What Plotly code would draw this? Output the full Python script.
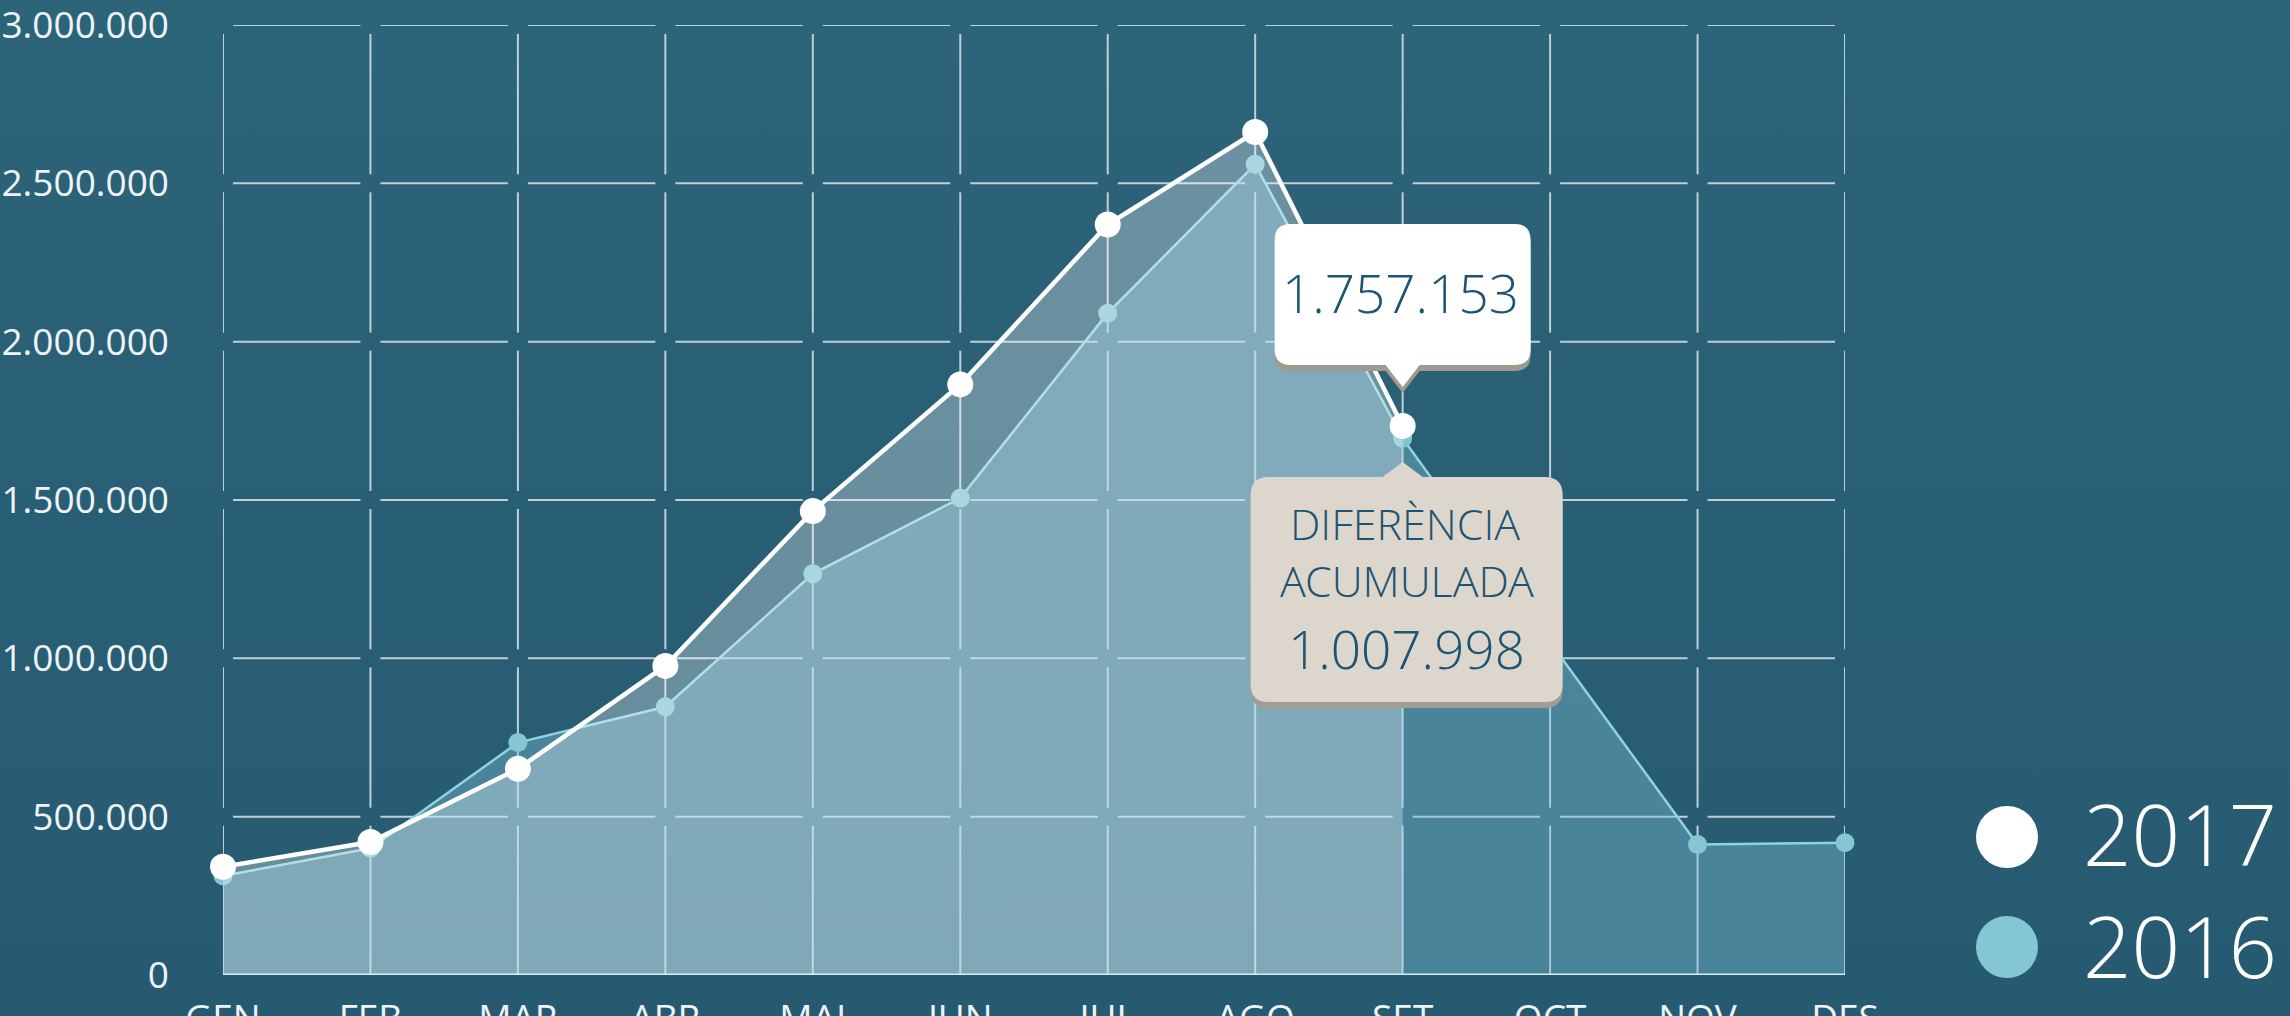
import base64
import plotly.graph_objects as go

# ---------------- data ----------------
months = ["GEN", "FEB", "MAR", "ABR", "MAI", "JUN", "JUL", "AGO", "SET", "OCT", "NOV", "DES"]
v2017 = [342000, 420000, 651000, 976000, 1465000, 1865000, 2370000, 2662000, 1734000]
v2016 = [313000, 400000, 734000, 847000, 1267000, 1506000, 2090000, 2560000, 1695000,
         1051000, 412000, 418000]
y_tick_vals = [0, 500000, 1000000, 1500000, 2000000, 2500000, 3000000]
y_tick_text = ["0", "500.000", "1.000.000", "1.500.000", "2.000.000", "2.500.000", "3.000.000"]
series_names = ["2017", "2016"]
callout_value = "1.757.153"
diff_title = ["DIFERÈNCIA", "ACUMULADA"]
diff_value = "1.007.998"

# ---------------- style ----------------
FONT = "Open Sans"
LIGHT = "Open Sans Light, Open Sans"
C2017 = "#ffffff"
C2016 = "#84c6d1"
TXT_DARK = "#1d5474"
W, H = 2290, 1016
ML, MR, MT, MB = 223, 445, 25, 41
PW, PH = W - ML - MR, H - MT - MB
xs = list(range(len(months)))
x16 = xs[:len(v2016)]
x17 = xs[:len(v2017)]

# grid with gaps at intersections (built from tick arrays)
gapx = 10 / (PW / (len(months) - 1))
gapy = 9 / (PH / (y_tick_vals[-1] - y_tick_vals[0]))
gx, gy = [], []
for i in xs:
    for k in range(len(y_tick_vals) - 1):
        lo = y_tick_vals[k] + (gapy if k > 0 else 0)
        hi = y_tick_vals[k + 1] - gapy
        gx += [i, i, None]
        gy += [lo, hi, None]
for k in range(1, len(y_tick_vals)):
    for i in xs[:-1]:
        gx += [i + gapx, i + 1 - gapx, None]
        gy += [y_tick_vals[k], y_tick_vals[k], None]

fig = go.Figure()
fig.add_trace(go.Scatter(x=gx, y=gy, mode="lines", line=dict(color="#bfcfd7", width=2),
                         hoverinfo="skip", cliponaxis=False, showlegend=False))
# 2016 area + line + markers
fig.add_trace(go.Scatter(x=x16, y=v2016, mode="lines+markers", fill="tozeroy",
                         fillcolor="rgba(125,193,215,0.40)",
                         line=dict(color="#8fd3dc", width=2.5),
                         marker=dict(color=C2016, size=19),
                         cliponaxis=False, showlegend=False, name=series_names[1]))
# 2017 area (semi-transparent white)
fig.add_trace(go.Scatter(x=x17, y=v2017, mode="lines", fill="tozeroy",
                         fillcolor="rgba(255,255,255,0.30)", line=dict(width=0),
                         hoverinfo="skip", showlegend=False))
# baseline
fig.add_trace(go.Scatter(x=[xs[0], xs[-1]], y=[y_tick_vals[0]] * 2, mode="lines",
                         line=dict(color="#d6ecf1", width=3), hoverinfo="skip",
                         cliponaxis=False, showlegend=False))
# 2017 line + markers
fig.add_trace(go.Scatter(x=x17, y=v2017, mode="lines+markers",
                         line=dict(color=C2017, width=4.5),
                         marker=dict(color=C2017, size=26),
                         cliponaxis=False, showlegend=False, name=series_names[0]))


def callout(x0, x1, yb, yt, r, pw, tip, pointer_down):
    p = f"M{x0 + r},{yb} "
    if pointer_down:
        p += f"L{-pw},{yb} L0,{tip} L{pw},{yb} "
    p += f"L{x1 - r},{yb} Q{x1},{yb} {x1},{yb + r} L{x1},{yt - r} Q{x1},{yt} {x1 - r},{yt} "
    if not pointer_down:
        p += f"L{pw},{yt} L0,{tip} L{-pw},{yt} "
    p += f"L{x0 + r},{yt} Q{x0},{yt} {x0},{yt - r} L{x0},{yb + r} Q{x0},{yb} {x0 + r},{yb} Z"
    return p


ax_i = len(v2017) - 1
ay_v = v2017[-1]
shapes = []
def add_callout(path, color):
    shapes.append(dict(type="path", xref="x", yref="y", xsizemode="pixel", ysizemode="pixel",
                       xanchor=ax_i, yanchor=ay_v, path=path, fillcolor=color,
                       line=dict(width=0), layer="above"))

add_callout(callout(-128, 128, 61 - 6, 202 - 6, 16, 17, 39 - 6, True), "#9f9a8f")
add_callout(callout(-128, 128, 61, 202, 16, 17, 39, True), "#ffffff")
add_callout(callout(-152, 160, -276 - 6, -51 - 6, 18, 20, -36 - 6, False), "#a29d92")
add_callout(callout(-152, 160, -276, -51, 18, 20, -36, False), "#ddd6cc")

annotations = []
def add_text(text, dx, dy, size):
    annotations.append(dict(x=ax_i, y=ay_v, xref="x", yref="y", text=text, showarrow=False,
                            xshift=dx, yshift=dy, xanchor="center", yanchor="middle",
                            font=dict(family=LIGHT, size=size, color=TXT_DARK, weight=300)))

add_text(callout_value, -2, 133, 53)
add_text(diff_title[0], 2, -98, 43)
add_text(diff_title[1], 4, -155, 43)
add_text(diff_value, 4, -223, 53)

# custom legend
leg_x_circle = (2007 - ML) / PW
leg_x_text = (2081 - ML) / PW
for name, col, ypix, ys in [(series_names[0], C2017, 837, 4), (series_names[1], C2016, 947, 2)]:
    yp = (H - MB - ypix) / PH
    shapes.append(dict(type="circle", xref="paper", yref="paper", xsizemode="pixel",
                       ysizemode="pixel", xanchor=leg_x_circle, yanchor=yp,
                       x0=-31, x1=31, y0=-31, y1=31, fillcolor=col, line=dict(width=0)))
    annotations.append(dict(x=leg_x_text, y=yp, xref="paper", yref="paper", text=name,
                            showarrow=False, xanchor="left", yanchor="middle", yshift=ys,
                            font=dict(family=LIGHT, size=85, color="#ffffff", weight=300)))

# gradient background
svg = ('<svg xmlns="http://www.w3.org/2000/svg" width="10" height="100" viewBox="0 0 10 100" '
       'preserveAspectRatio="none"><defs><linearGradient id="g" x1="0" y1="0" x2="0" y2="1">'
       '<stop offset="0" stop-color="#2c6479"/><stop offset="1" stop-color="#265a71"/>'
       '</linearGradient></defs><rect width="10" height="100" fill="url(#g)"/></svg>')
src = "data:image/svg+xml;base64," + base64.b64encode(svg.encode()).decode()

fig.update_layout(
    width=W, height=H,
    margin=dict(l=ML, r=MR, t=MT, b=MB, pad=0, autoexpand=False),
    paper_bgcolor="#29607a", plot_bgcolor="rgba(0,0,0,0)",
    font=dict(family=FONT, color="#eef4f6"),
    showlegend=False,
    shapes=shapes, annotations=annotations,
    images=[dict(source=src, xref="paper", yref="paper", x=-ML / PW, y=1 + MT / PH,
                 sizex=W / PW, sizey=H / PH, sizing="stretch", xanchor="left",
                 yanchor="top", layer="below")],
    xaxis=dict(range=[xs[0], xs[-1]], tickvals=xs, ticktext=months, showgrid=False,
               zeroline=False, showline=False, ticks="", ticklabelstandoff=18,
               automargin=False, ticklabeloverflow="allow",
               tickfont=dict(family=FONT, size=37, color="#eef4f6")),
    yaxis=dict(range=[y_tick_vals[0], y_tick_vals[-1]], tickvals=y_tick_vals,
               ticktext=y_tick_text, showgrid=False, zeroline=False, showline=False,
               ticks="", ticklabelstandoff=53, automargin=False, ticklabeloverflow="allow",
               tickfont=dict(family=FONT, size=37, color="#eef4f6")),
)

fig.write_html("out.html", config={"displayModeBar": False},
               post_script="document.body.style.margin='0';document.body.style.overflow='hidden';")
